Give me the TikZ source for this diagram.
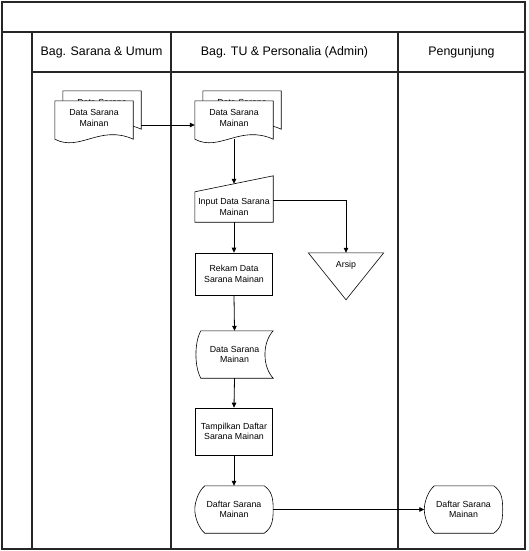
\documentclass[tikz,border=0pt]{standalone}
\usepackage{fontspec}
\setmainfont{Liberation Sans}
\usetikzlibrary{arrows.meta, positioning, calc}

\tikzset{
  lane/.style={draw=black!85, line width=1.3pt},
  outline/.style={draw=black, line width=0.6pt},
  flow/.style={draw=black, line width=0.8pt, -{Triangle[length=5pt, width=4.5pt]}},
  txt/.style={align=center, font=\fontsize{8.8}{10.5}\selectfont, inner sep=0pt},
  hdr/.style={font=\fontsize{12.4}{14}\selectfont},
  box/.style={txt, outline, minimum width=77pt, minimum height=42pt},
  area/.style={txt, minimum width=78pt, minimum height=38pt},
  dispbox/.style={txt, minimum width=78pt, minimum height=47pt},
}

% document with wavy bottom, drawn on an empty node, then its text
\newcommand{\wavedoc}[2]{%
  \filldraw[outline, fill=white] (#1.south west) -- (#1.north west) -- (#1.north east) -- (#1.south east)
    .. controls ($(#1.south east)+(-33,-15)$) and ($(#1.south west)+(25,13)$) .. cycle;
  \node[txt] (#1-t) at ([yshift=2pt]#1.center) {#2};
}
% display shape round a node
\newcommand{\dispshape}[1]{%
  \draw[outline] ($(#1.north west)+(10,0)$) -- ($(#1.north east)+(-9,0)$)
    .. controls ($(#1.north east)+(-2,5)$) and ($(#1.east)+(0,-13)$) .. (#1.east)
    .. controls ($(#1.east)+(0,13)$) and ($(#1.south east)+(-2,-5)$) .. ($(#1.south east)+(-9,0)$)
    -- ($(#1.south west)+(10,0)$)
    .. controls ($(#1.south west)+(4,-5)$) and ($(#1.west)+(0,8)$) .. (#1.west)
    .. controls ($(#1.west)+(0,-8)$) and ($(#1.north west)+(4,5)$) .. cycle;
}

\begin{document}
\begin{tikzpicture}[x=1pt, y=-1pt]
\useasboundingbox (0,0) rectangle (528,551);
% swimlanes
\draw[lane] (2,2) rectangle (525,549);
\draw[lane] (2,32) -- (525,32);
\draw[lane] (32,72) -- (525,72);
\draw[lane] (32,32) -- (32,549);
\draw[lane] (171,32) -- (171,549);
\draw[lane] (398,32) -- (398,549);
\draw[lane, line width=2.2pt] (2,549) -- (525,549);
\node[hdr] (colSarana) at (101.5,52) {Bag. Sarana \& Umum};
\node[hdr] (colAdmin) at (284.5,52) {Bag. TU \& Personalia (Admin)};
\node[hdr] (colVisitor) at (461.5,52) {Pengunjung};

% documents
\node[area] (backA) at (102,110) {};
\wavedoc{backA}{Data Sarana\\Mainan}
\node[area] (docA) at (94,120) {};
\wavedoc{docA}{Data Sarana\\Mainan}
\node[area] (backB) at (242,110) {};
\wavedoc{backB}{Data Sarana\\Mainan}
\node[area] (docB) at (234,120) {};
\wavedoc{docB}{Data Sarana\\Mainan}

% admin flow
\node[txt, minimum width=78pt, minimum height=30pt] (inp) at (234,207) {Input Data Sarana\\Mainan};
\draw[outline] (inp.north west) -- (inp.south west) -- (inp.south east) -- ($(inp.north east)+(0,-16)$) -- cycle;
\node[box] (rekam) at (234,274) {Rekam Data\\Sarana Mainan};
\node[txt, minimum width=75pt, minimum height=24pt] (arsip) at (346,265) {Arsip};
\draw[outline] (arsip.north west) -- (arsip.north east) -- ($(arsip.north)+(0,47)$) -- cycle;
\node[txt, minimum width=77pt, minimum height=47pt] (simpan) at (234.5,354.5) {Data Sarana\\Mainan};
\draw[outline] ($(simpan.north west)+(5,0)$) -- (simpan.north east)
  .. controls ($(simpan.east)+(-11,-12)$) and ($(simpan.east)+(-11,12)$) .. (simpan.south east)
  -- ($(simpan.south west)+(5,0)$)
  .. controls ($(simpan.west)+(-1.5,12)$) and ($(simpan.west)+(-1.5,-12)$) .. cycle;
\node[box, minimum height=47pt] (tampil) at (234,431.5) {Tampilkan Daftar\\Sarana Mainan};
\node[dispbox] (layarA) at (234,509.5) {Daftar Sarana\\Mainan};
\dispshape{layarA}
\node[dispbox] (layarB) at (463.5,509.5) {Daftar Sarana\\Mainan};
\dispshape{layarB}

% connectors
\coordinate (flowY) at (0,125);
\draw[flow] (backA.east |- flowY) -- (docB.west |- flowY);
\draw[flow] (docB.south) -- ([yshift=8pt]inp.north);
\draw[flow] (inp.south) -- (rekam.north);
\draw[flow] ([yshift=7pt]inp.east) -| (arsip.north);
\draw[flow] (rekam.south) -- (simpan.north);
\draw[flow] (simpan.south) -- (tampil.north);
\draw[flow] (tampil.south) -- (layarA.north);
\draw[flow] (layarA.east) -- (layarB.west);
\end{tikzpicture}
\end{document}
